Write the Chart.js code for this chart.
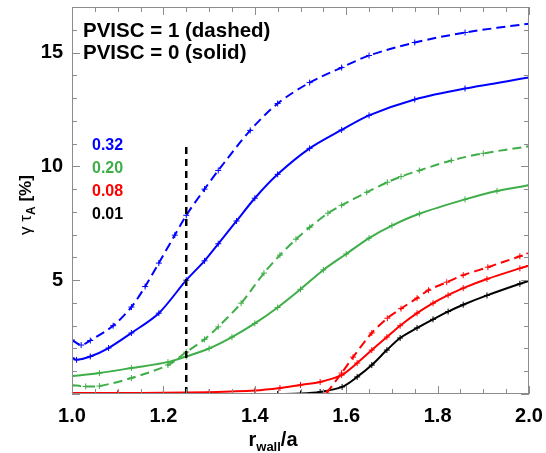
<!DOCTYPE html>
<html>
<head>
<meta charset="utf-8">
<script src="https://cdn.jsdelivr.net/npm/chart.js@4/dist/chart.umd.min.js"></script>
<style>
  body { margin: 0; background: #fff; }
  #wrap { position: relative; width: 546px; height: 453px; font-family: "Liberation Sans", Arial, sans-serif; }
  #c { position: absolute; left: 0; top: 0; }
  .txt { position: absolute; white-space: nowrap; line-height: 1; font-weight: bold; }
</style>
</head>
<body>
<div id="wrap">
  <canvas id="c" width="546" height="453"></canvas>
  <div class="txt" style="left:83px;top:20px;font-size:20.5px;color:#000">PVISC = 1 (dashed)</div>
  <div class="txt" style="left:83px;top:42px;font-size:20.5px;color:#000">PVISC = 0 (solid)</div>
  <div class="txt" style="left:92px;top:137px;font-size:16px;color:#0000ff">0.32</div>
  <div class="txt" style="left:92px;top:160px;font-size:16px;color:#3fae49">0.20</div>
  <div class="txt" style="left:92px;top:183px;font-size:16px;color:#ff0000">0.08</div>
  <div class="txt" style="left:92px;top:206px;font-size:16px;color:#000">0.01</div>
  <div class="txt" style="left:25px;top:205px;font-size:17px;transform:translate(-50%,-50%) rotate(-90deg)">
    <span style="font-weight:normal">&gamma; &tau;</span><span style="font-size:12px;position:relative;top:4px">A</span> [%]
  </div>
  <div class="txt" style="left:0;width:546px;text-align:center;top:429px;font-size:20px">
    r<span style="font-size:13px;position:relative;top:5px">wall</span>/a
  </div>
</div>
<script>
// growth rate vs wall position
const blueDashX  = [1.0, 1.02, 1.04, 1.09, 1.13, 1.16, 1.19, 1.225, 1.25, 1.29, 1.32, 1.39, 1.45, 1.52, 1.59, 1.65, 1.75, 1.86, 2.0];
const blueDashY  = [2.37, 2.15, 2.35, 3.0, 3.82, 4.72, 5.75, 6.98, 7.85, 9.0, 9.82, 11.58, 12.76, 13.68, 14.34, 14.87, 15.44, 15.88, 16.27];

const blueSolidX = [1.0, 1.01, 1.04, 1.08, 1.13, 1.19, 1.25, 1.29, 1.32, 1.36, 1.4, 1.45, 1.52, 1.59, 1.65, 1.75, 1.86, 2.0];
const blueSolidY = [1.58, 1.5, 1.65, 2.02, 2.68, 3.55, 5.0, 5.85, 6.6, 7.6, 8.6, 9.65, 10.79, 11.6, 12.24, 12.94, 13.42, 13.9];

const greenDashX = [1.0, 1.03, 1.06, 1.13, 1.21, 1.25, 1.29, 1.32, 1.37, 1.42, 1.455, 1.49, 1.52, 1.56, 1.59, 1.645, 1.69, 1.72, 1.76, 1.83, 1.9, 2.0];
const greenDashY = [0.39, 0.33, 0.35, 0.7, 1.27, 1.84, 2.4, 2.95, 3.99, 5.31, 6.1, 6.8, 7.32, 7.94, 8.29, 8.86, 9.3, 9.55, 9.82, 10.26, 10.57, 10.88];

const greenSolidX = [1.0, 1.06, 1.13, 1.21, 1.25, 1.3, 1.35, 1.4, 1.45, 1.5, 1.55, 1.6, 1.65, 1.7, 1.76, 1.86, 1.93, 2.0];
const greenSolidY = [0.79, 0.92, 1.14, 1.4, 1.65, 2.0, 2.5, 3.1, 3.8, 4.6, 5.45, 6.15, 6.85, 7.4, 7.92, 8.55, 8.92, 9.17];

const redDashX  = [1.557, 1.59, 1.615, 1.656, 1.69, 1.72, 1.755, 1.78, 1.82, 1.856, 1.91, 1.98, 2.0];
const redDashY  = [0.04, 0.92, 1.62, 2.68, 3.33, 3.75, 4.21, 4.56, 4.91, 5.22, 5.57, 6.05, 6.18];

const redSolidX = [1.0, 1.1, 1.2, 1.3, 1.4, 1.455, 1.5, 1.543, 1.59, 1.624, 1.656, 1.689, 1.718, 1.755, 1.79, 1.823, 1.856, 1.908, 1.98, 2.0];
const redSolidY = [0.04, 0.04, 0.05, 0.08, 0.15, 0.26, 0.4, 0.53, 0.83, 1.36, 1.93, 2.5, 3.0, 3.55, 3.99, 4.34, 4.65, 5.05, 5.52, 5.64];

const blackSolidX = [1.45, 1.5, 1.543, 1.591, 1.624, 1.656, 1.689, 1.718, 1.755, 1.79, 1.823, 1.856, 1.908, 1.98, 2.0];
const blackSolidY = [0.0, 0.02, 0.09, 0.31, 0.75, 1.27, 1.93, 2.46, 2.9, 3.28, 3.62, 3.92, 4.33, 4.84, 4.97];

const wallMarkX = [1.25, 1.25];
const wallMarkY = [0, 11];

function pts(xs, ys) {
  return xs.map((x, i) => ({ x: x, y: ys[i] }));
}

function curve(xs, ys, color, dashed) {
  return {
    data: pts(xs, ys),
    borderColor: color,
    backgroundColor: color,
    borderWidth: 2,
    borderDash: dashed ? [9, 5] : [],
    pointStyle: 'cross',
    pointRadius: 3,
    pointBorderWidth: 1,
    pointBorderColor: color,
    tension: 0.3,
    fill: false
  };
}

const green = '#3fae49';

// inward ticks on all four sides + grey frame
const frameTicks = {
  id: 'frameTicks',
  afterDatasetsDraw(chart) {
    const ctx = chart.ctx;
    const a = chart.chartArea;
    const sx = chart.scales.x, sy = chart.scales.y;
    ctx.save();
    ctx.strokeStyle = '#8c8c8c';
    ctx.lineWidth = 1;
    ctx.strokeRect(a.left + 0.5, a.top + 0.5, a.right - a.left - 1, a.bottom - a.top - 1);
    ctx.beginPath();
    for (let i = 0; i <= 20; i++) {
      const px = Math.round(sx.getPixelForValue(1 + i * 0.05)) + 0.5;
      const len = i % 4 === 0 ? 8 : 5;
      ctx.moveTo(px, a.bottom); ctx.lineTo(px, a.bottom - len);
      ctx.moveTo(px, a.top); ctx.lineTo(px, a.top + len);
    }
    for (let i = 0; i <= 17; i++) {
      const py = Math.round(sy.getPixelForValue(i)) + 0.5;
      const len = i % 5 === 0 ? 8 : 5;
      ctx.moveTo(a.left, py); ctx.lineTo(a.left + len, py);
      ctx.moveTo(a.right, py); ctx.lineTo(a.right - len, py);
    }
    ctx.stroke();
    ctx.restore();
  }
};

new Chart(document.getElementById('c'), {
  type: 'line',
  data: {
    datasets: [
      {
        data: pts(wallMarkX, wallMarkY),
        borderColor: '#000',
        borderWidth: 2.5,
        borderDash: [7, 5],
        pointRadius: 0,
        fill: false
      },
      curve(blueDashX, blueDashY, '#0000ff', true),
      curve(blueSolidX, blueSolidY, '#0000ff', false),
      curve(greenDashX, greenDashY, green, true),
      curve(greenSolidX, greenSolidY, green, false),
      curve(redDashX, redDashY, '#ff0000', true),
      curve(redSolidX, redSolidY, '#ff0000', false),
      curve(blackSolidX, blackSolidY, '#000000', false)
    ]
  },
  options: {
    responsive: false,
    animation: false,
    layout: { padding: { top: 7, right: 17, left: 0, bottom: 0 } },
    plugins: { legend: { display: false }, tooltip: { enabled: false } },
    scales: {
      x: {
        type: 'linear',
        min: 1.0,
        max: 2.0,
        grid: { display: false, drawTicks: false },
        border: { display: false },
        ticks: {
          stepSize: 0.2,
          padding: 10,
          color: '#000',
          font: { family: 'Liberation Sans', size: 20, weight: 'bold' },
          callback: v => v.toFixed(1)
        },
        afterFit: s => { s.height = 59; s.paddingLeft = 0; s.paddingRight = 0; }
      },
      y: {
        min: 0,
        max: 17,
        grid: { display: false, drawTicks: false },
        border: { display: false },
        ticks: {
          stepSize: 5,
          padding: 9,
          color: '#000',
          font: { family: 'Liberation Sans', size: 20, weight: 'bold' },
          callback: v => (v > 0 && v % 5 === 0) ? String(v) : ''
        },
        afterFit: s => { s.width = 72; s.paddingTop = 0; s.paddingBottom = 0; }
      }
    }
  },
  plugins: [frameTicks]
});
</script>
</body>
</html>
